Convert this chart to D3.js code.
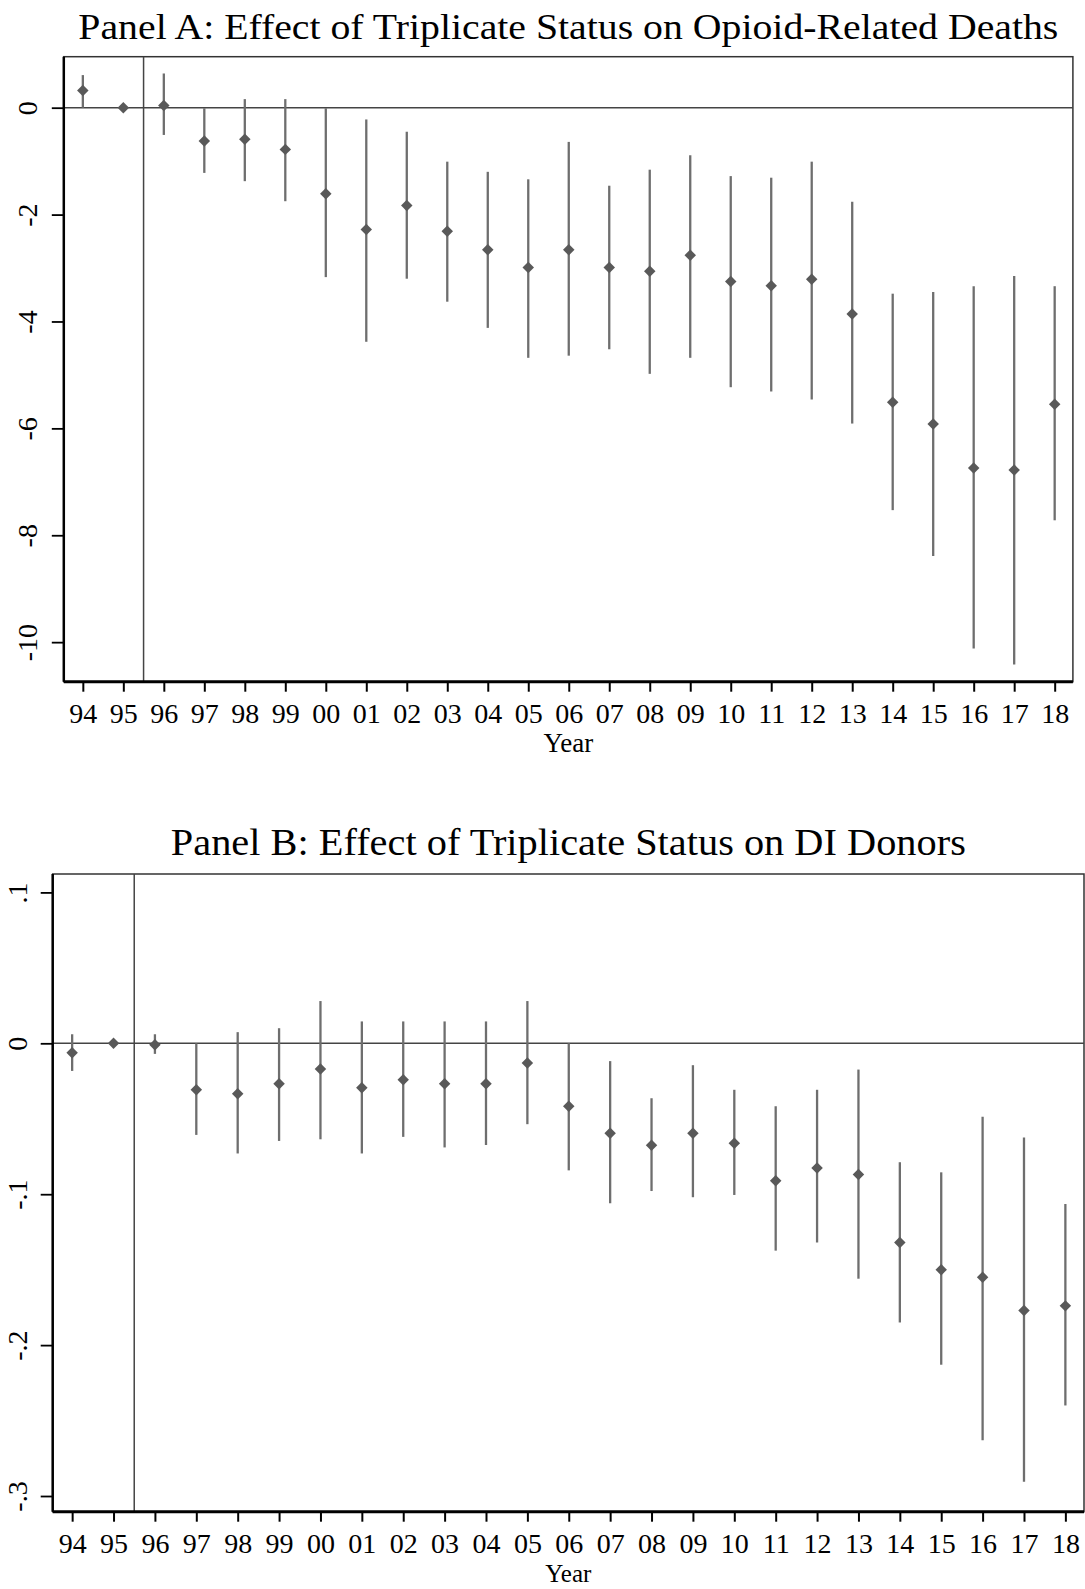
<!DOCTYPE html>
<html>
<head>
<meta charset="utf-8">
<script src="https://cdn.jsdelivr.net/npm/d3@7"></script>
<style>
  html, body { margin: 0; padding: 0; background: #fff; }
  svg { display: block; }
  text { font-family: "Liberation Serif", "Times New Roman", serif; fill: #000; }
</style>
</head>
<body>
<svg id="chart" width="1085" height="1589"></svg>
<script>
// Event-study years (x-axis categories)
const years = ["94","95","96","97","98","99","00","01","02","03","04","05","06",
               "07","08","09","10","11","12","13","14","15","16","17","18"];

// Panel A: opioid-related deaths — point estimates and 95% CI bounds
const deathsCoef = [0.32, 0, 0.04, -0.625, -0.59, -0.78, -1.61, -2.28, -1.83, -2.31, -2.66, -2.99, -2.66,
                    -2.99, -3.06, -2.76, -3.25, -3.33, -3.21, -3.86, -5.51, -5.92, -6.74, -6.78, -5.55];
const deathsLo   = [0.0, null, -0.51, -1.22, -1.375, -1.75, -3.17, -4.38, -3.2, -3.63, -4.12, -4.68, -4.64,
                    -4.52, -4.98, -4.68, -5.23, -5.31, -5.46, -5.91, -7.53, -8.39, -10.12, -10.42, -7.72];
const deathsHi   = [0.61, null, 0.64, -0.01, 0.16, 0.16, -0.01, -0.22, -0.45, -1.01, -1.2, -1.34, -0.64,
                    -1.46, -1.16, -0.89, -1.28, -1.31, -1.01, -1.76, -3.48, -3.45, -3.34, -3.15, -3.34];
const deathsTicks = [0, -2, -4, -6, -8, -10];
const deathsTickLabels = ["0", "-2", "-4", "-6", "-8", "-10"];

// Panel B: DI donors — point estimates and 95% CI bounds
const donorsCoef = [-0.0063, 0, -0.001, -0.0308, -0.0335, -0.0268, -0.017, -0.0295, -0.0241, -0.0268, -0.0268, -0.013, -0.0417,
                    -0.0596, -0.0676, -0.0596, -0.0663, -0.0911, -0.0826, -0.087, -0.132, -0.150, -0.155, -0.177, -0.174];
const donorsLo   = [-0.0183, null, -0.007, -0.0607, -0.073, -0.0647, -0.0636, -0.073, -0.062, -0.069, -0.0674, -0.0536, -0.0842,
                    -0.106, -0.0979, -0.102, -0.1005, -0.1374, -0.132, -0.156, -0.185, -0.213, -0.263, -0.2905, -0.240];
const donorsHi   = [0.006, null, 0.006, 0.0, 0.0074, 0.010, 0.028, 0.0145, 0.0145, 0.0145, 0.0145, 0.028, 0.0,
                    -0.0118, -0.0364, -0.0145, -0.0308, -0.0417, -0.0308, -0.0174, -0.0788, -0.0855, -0.0487, -0.0625, -0.1065];
const donorsTicks = [0.1, 0, -0.1, -0.2, -0.3];
const donorsTickLabels = [".1", "0", "-.1", "-.2", "-.3"];

// Treatment cutoff sits between 1995 and 1996
const cutoffIndex = 1.5;

const svg = d3.select("#chart");

function drawPanel(opts) {
  const { title, titleY, titleSize, titleWidth, left, right, top, bottom, yDomain, coef, lo, hi,
          ticks, tickLabels, yLabelOffset, xLabelY, yearY, yearSize } = opts;

  const x = d3.scaleLinear().domain([-0.47, years.length - 1 + 0.45]).range([left, right]);
  const y = d3.scaleLinear().domain(yDomain).range([bottom, top]);

  const g = svg.append("g");

  // Title centred over the plot region, set in a slightly wide face
  g.append("text")
    .attr("x", (left + right) / 2)
    .attr("y", titleY)
    .attr("text-anchor", "middle")
    .attr("textLength", titleWidth)
    .attr("lengthAdjust", "spacingAndGlyphs")
    .style("font-size", titleSize + "px")
    .text(title);

  // Plot frame (top and right edges)
  g.append("rect")
    .attr("x", left).attr("y", top)
    .attr("width", right - left).attr("height", bottom - top)
    .attr("fill", "none").attr("stroke", "#333").attr("stroke-width", 1.5);

  // Zero reference line and cutoff line
  g.append("line")
    .attr("x1", left).attr("x2", right)
    .attr("y1", y(0)).attr("y2", y(0))
    .attr("stroke", "#444").attr("stroke-width", 1.5);
  g.append("line")
    .attr("x1", x(cutoffIndex)).attr("x2", x(cutoffIndex))
    .attr("y1", top).attr("y2", bottom)
    .attr("stroke", "#444").attr("stroke-width", 1.5);

  // Confidence intervals
  const idx = d3.range(years.length).filter(i => lo[i] !== null);
  g.append("g").selectAll("line")
    .data(idx)
    .join("line")
    .attr("x1", i => x(i)).attr("x2", i => x(i))
    .attr("y1", i => y(lo[i])).attr("y2", i => y(hi[i]))
    .attr("stroke", "#6e6e6e").attr("stroke-width", 2.3);

  // Point estimates as diamonds
  const diamond = d3.symbol().type(d3.symbolDiamond2).size(84);
  g.append("g").selectAll("path")
    .data(d3.range(years.length))
    .join("path")
    .attr("d", diamond)
    .attr("transform", i => `translate(${x(i)},${y(coef[i])})`)
    .attr("fill", "#595959");

  // Bottom axis
  const xAxis = d3.axisBottom(x)
    .tickValues(d3.range(years.length))
    .tickFormat(i => years[i])
    .tickSize(10).tickSizeOuter(0);
  const xg = g.append("g").attr("transform", `translate(0,${bottom})`).call(xAxis);
  xg.select(".domain").attr("stroke", "#000").attr("stroke-width", 3)
    .attr("d", `M${left},0H${right}`);
  xg.selectAll(".tick line").attr("stroke", "#000").attr("stroke-width", 2);
  xg.selectAll(".tick text")
    .attr("dy", null)
    .attr("y", xLabelY - bottom)
    .style("font-size", "28px").attr("fill", "#000");

  // Left axis with rotated labels
  const yAxis = d3.axisLeft(y)
    .tickValues(ticks)
    .tickFormat((d, k) => tickLabels[k])
    .tickSize(12).tickSizeOuter(0);
  const yg = g.append("g").attr("transform", `translate(${left},0)`).call(yAxis);
  yg.select(".domain").attr("stroke", "#000").attr("stroke-width", 2.5)
    .attr("d", `M0,${top}V${bottom}`);
  yg.selectAll(".tick line").attr("stroke", "#000").attr("stroke-width", 1.8);
  yg.selectAll(".tick text")
    .attr("x", 0).attr("dy", null)
    .attr("y", yLabelOffset)
    .attr("transform", "rotate(-90)")
    .attr("text-anchor", "middle")
    .style("font-size", "28px").attr("fill", "#000");

  // Axis title
  g.append("text")
    .attr("x", (left + right) / 2)
    .attr("y", yearY)
    .attr("text-anchor", "middle")
    .style("font-size", yearSize + "px")
    .text("Year");
}

drawPanel({
  title: "Panel A: Effect of Triplicate Status on Opioid-Related Deaths",
  titleY: 38.5, titleSize: 35, titleWidth: 980,
  left: 63.8, right: 1072.9, top: 56.7, bottom: 681.7,
  yDomain: [-10.74, 0.954],
  coef: deathsCoef, lo: deathsLo, hi: deathsHi,
  ticks: deathsTicks, tickLabels: deathsTickLabels,
  yLabelOffset: -27, xLabelY: 723, yearY: 752, yearSize: 27
});

drawPanel({
  title: "Panel B: Effect of Triplicate Status on DI Donors",
  titleY: 855, titleSize: 38, titleWidth: 795,
  left: 52.7, right: 1084, top: 874, bottom: 1511.7,
  yDomain: [-0.3104, 0.1122],
  coef: donorsCoef, lo: donorsLo, hi: donorsHi,
  ticks: donorsTicks, tickLabels: donorsTickLabels,
  yLabelOffset: -26, xLabelY: 1553, yearY: 1582, yearSize: 25
});
</script>
</body>
</html>
